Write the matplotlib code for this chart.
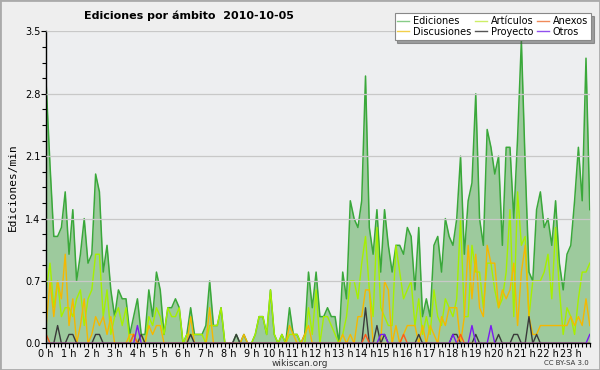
import matplotlib.pyplot as plt
from matplotlib.lines import Line2D
import numpy as np

# Ediciones por ámbito, 2010-10-05, una muestra cada 10 minutos (144 puntos)
titulo = 'Ediciones por ámbito  2010-10-05'
horas = [f'{h} h' for h in range(24)]

ediciones = [
    2.9, 2.0, 1.2, 1.2, 1.3, 1.7,
    1.0, 1.5, 0.7, 1.0, 1.4, 0.9,
    1.0, 1.9, 1.7, 0.8, 1.1, 0.6,
    0.3, 0.6, 0.5, 0.5, 0.1, 0.3,
    0.5, 0.1, 0.1, 0.6, 0.3, 0.8,
    0.6, 0.1, 0.4, 0.4, 0.5, 0.4,
    0.0, 0.1, 0.4, 0.1, 0.1, 0.1,
    0.2, 0.7, 0.2, 0.2, 0.4, 0.0,
    0.0, 0.0, 0.1, 0.0, 0.1, 0.0,
    0.0, 0.1, 0.3, 0.3, 0.1, 0.6,
    0.1, 0.0, 0.1, 0.0, 0.4, 0.1,
    0.1, 0.0, 0.1, 0.8, 0.4, 0.8,
    0.3, 0.3, 0.4, 0.3, 0.3, 0.0,
    0.8, 0.5, 1.6, 1.4, 1.3, 1.6,
    3.0, 1.3, 1.0, 1.5, 0.8, 1.5,
    1.1, 0.8, 1.1, 1.1, 1.0, 1.3,
    1.2, 0.6, 1.3, 0.3, 0.5, 0.3,
    1.1, 1.2, 0.8, 1.4, 1.2, 1.1,
    1.4, 2.1, 1.0, 1.6, 1.8, 2.8,
    1.4, 1.1, 2.4, 2.2, 1.9, 2.1,
    1.1, 2.2, 2.2, 1.4, 2.3, 3.4,
    2.0, 0.8, 0.7, 1.5, 1.7, 1.3,
    1.4, 1.1, 1.6, 0.9, 0.6, 1.0,
    1.1, 1.6, 2.2, 1.6, 3.2, 1.5,
]

articulos = [
    0.6, 0.9, 0.4, 0.7, 0.3, 0.4,
    0.4, 0.3, 0.5, 0.6, 0.2, 0.5,
    0.6, 1.0, 1.0, 0.3, 0.6, 0.1,
    0.3, 0.4, 0.2, 0.4, 0.0, 0.1,
    0.0, 0.0, 0.0, 0.3, 0.2, 0.4,
    0.3, 0.1, 0.4, 0.3, 0.3, 0.4,
    0.0, 0.1, 0.1, 0.1, 0.1, 0.1,
    0.0, 0.2, 0.2, 0.2, 0.4, 0.0,
    0.0, 0.0, 0.0, 0.0, 0.0, 0.0,
    0.0, 0.1, 0.3, 0.3, 0.1, 0.6,
    0.1, 0.0, 0.1, 0.0, 0.1, 0.1,
    0.1, 0.0, 0.0, 0.4, 0.1, 0.6,
    0.0, 0.3, 0.3, 0.2, 0.1, 0.0,
    0.1, 0.3, 0.7, 0.7, 0.5, 0.9,
    1.2, 0.6, 0.3, 1.3, 0.4, 0.3,
    0.2, 0.2, 1.1, 0.8, 0.5, 0.6,
    0.7, 0.2, 0.5, 0.1, 0.3, 0.1,
    0.6, 0.3, 0.2, 0.5, 0.4, 0.3,
    0.5, 1.4, 0.3, 0.3, 1.1, 0.8,
    0.8, 0.4, 0.9, 0.9, 0.6, 0.4,
    0.5, 0.8, 1.5, 0.3, 1.7, 1.1,
    1.2, 0.3, 0.7, 0.7, 0.7, 0.8,
    1.0, 0.5, 1.3, 0.6, 0.1, 0.4,
    0.3, 0.1, 0.5, 0.8, 0.8, 0.9,
]

discusiones = [
    0.2, 0.7, 0.3, 0.7, 0.5, 1.0,
    0.2, 0.5, 0.0, 0.2, 0.5, 0.0,
    0.1, 0.3, 0.2, 0.3, 0.1, 0.3,
    0.0, 0.0, 0.0, 0.0, 0.1, 0.1,
    0.0, 0.1, 0.0, 0.2, 0.1, 0.2,
    0.2, 0.0, 0.0, 0.0, 0.0, 0.0,
    0.0, 0.0, 0.3, 0.0, 0.0, 0.0,
    0.0, 0.4, 0.0, 0.0, 0.0, 0.0,
    0.0, 0.0, 0.0, 0.0, 0.1, 0.0,
    0.0, 0.0, 0.0, 0.0, 0.0, 0.0,
    0.0, 0.0, 0.0, 0.0, 0.2, 0.1,
    0.0, 0.0, 0.1, 0.2, 0.0, 0.0,
    0.0, 0.0, 0.0, 0.0, 0.0, 0.0,
    0.1, 0.0, 0.1, 0.0, 0.3, 0.3,
    0.6, 0.6, 0.0, 0.0, 0.0, 0.7,
    0.6, 0.0, 0.2, 0.0, 0.1, 0.2,
    0.2, 0.2, 0.0, 0.2, 0.0, 0.2,
    0.1, 0.0, 0.3, 0.2, 0.4, 0.4,
    0.4, 0.0, 0.3, 1.1, 0.5, 1.0,
    0.4, 0.3, 1.1, 0.9, 0.9, 0.4,
    0.6, 0.5, 0.6, 0.9, 0.2, 0.8,
    1.1, 0.3, 0.1, 0.1, 0.2, 0.2,
    0.2, 0.2, 0.2, 0.2, 0.2, 0.2,
    0.3, 0.2, 0.3, 0.2, 0.5, 0.2,
]

# series casi vacias: solo los puntos distintos de cero {indice: valor}
proyecto_nz = {3: 0.2, 6: 0.1, 7: 0.1, 13: 0.1, 14: 0.1, 25: 0.1, 38: 0.1,
               50: 0.1, 84: 0.4, 87: 0.2, 89: 0.1, 98: 0.1, 107: 0.1,
               108: 0.1, 113: 0.1, 119: 0.1, 123: 0.1, 124: 0.1, 127: 0.3,
               129: 0.1}
anexos_nz = {0: 0.1, 23: 0.1, 84: 0.1, 94: 0.1, 109: 0.1}
otros_nz = {24: 0.2, 88: 0.1, 89: 0.1, 107: 0.1, 112: 0.2, 117: 0.2, 143: 0.1}

N = len(ediciones)
x = np.arange(N)

def serie(nz):
    s = np.zeros(N)
    for i, v in nz.items():
        s[i] = v
    return s

proyecto = serie(proyecto_nz)
anexos = serie(anexos_nz)
otros = serie(otros_nz)

fig = plt.figure(figsize=(6, 3.7), dpi=100, facecolor='#eeeeee')
ax = fig.add_axes([0.077, 0.072, 0.906, 0.843], facecolor='#edeef0')

ax.fill_between(x, ediciones, color='#9dca9d', lw=0)
ax.plot(x, ediciones, color='#3aa83a', lw=1.1)
ax.plot(x, articulos, color='#a6f000', lw=1)
ax.plot(x, discusiones, color='#f5b800', lw=1)
ax.plot(x, proyecto, color='#3a3a3a', lw=1)
ax.plot(x, anexos, color='#ff5a1a', lw=1)
ax.plot(x, otros, color='#7a1af0', lw=1)

ax.set_xlim(0, N - 1)
ax.set_ylim(0, 3.5)
ax.set_yticks(np.arange(0, 3.51, 0.7))
ax.set_yticks(np.arange(0, 3.51, 0.175), minor=True)
ax.set_yticklabels([f'{v:.1f}' for v in np.arange(0, 3.51, 0.7)])
ax.set_xticks(np.arange(0, N, 6))
ax.set_xticklabels(horas)
ax.set_xticks(x, minor=True)
ax.tick_params(axis='both', which='major', labelsize=7, length=3.5, width=0.8, pad=0.5)
ax.tick_params(axis='both', which='minor', length=3, width=0.8)
ax.grid(axis='y', which='major', color='#c8c8c8', lw=0.9)
ax.set_axisbelow(False)
for sp in ['top', 'right']:
    ax.spines[sp].set_visible(False)
ax.spines['left'].set_linewidth(1)
ax.spines['bottom'].set_linewidth(1)

ax.set_ylabel('Ediciones/min', fontsize=8, family='DejaVu Sans Mono', labelpad=5)
fig.text(0.315, 0.958, titulo, fontsize=8, fontweight='bold', ha='center', va='center')
fig.text(0.5, 0.018, 'wikiscan.org', fontsize=6.5, ha='center', va='center', color='#333333')
fig.text(0.982, 0.018, 'CC BY-SA 3.0', fontsize=5, ha='right', va='center', color='#333333')

handles = [
    Line2D([], [], color='#88cc88', lw=1),
    Line2D([], [], color='#f2cf4a', lw=1),
    Line2D([], [], color='#cdee66', lw=1),
    Line2D([], [], color='#555555', lw=1),
    Line2D([], [], color='#f08a5a', lw=1),
    Line2D([], [], color='#9050ee', lw=1),
]
etiquetas = ['Ediciones', 'Discusiones', 'Artículos', 'Proyecto', 'Anexos', 'Otros']
leg = fig.legend(handles, etiquetas, ncol=3, loc='upper right',
                 bbox_to_anchor=(0.993, 0.978), fontsize=7, frameon=True,
                 fancybox=False, shadow=True, handlelength=1.2, handletextpad=0.4,
                 columnspacing=0.4, labelspacing=0.1, borderpad=0.3)
leg.get_frame().set_edgecolor('#888888')
leg.get_frame().set_linewidth(0.8)

# borde gris de la imagen
fig.patches.append(plt.Rectangle((0, 0), 1, 1, transform=fig.transFigure,
                                 fill=False, edgecolor='#aaaaaa', lw=2))

fig.savefig('out.png', dpi=100, facecolor=fig.get_facecolor())
